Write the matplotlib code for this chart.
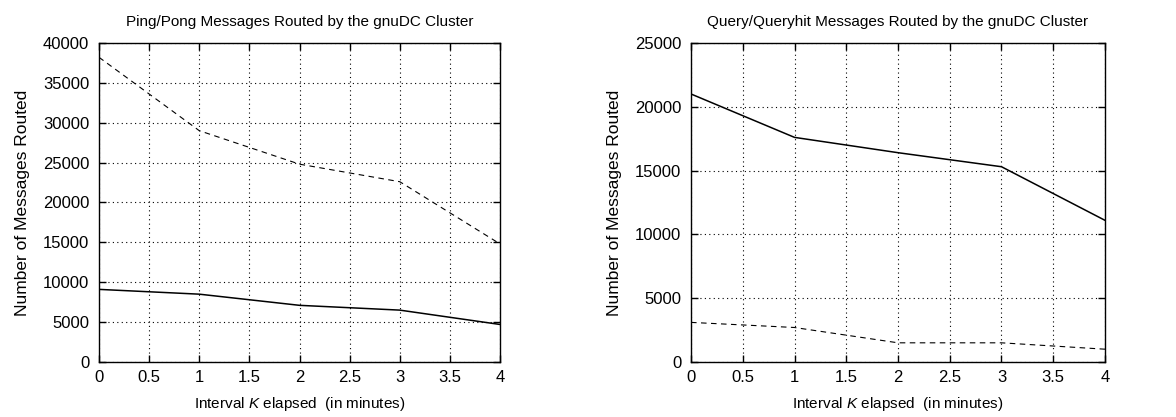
import matplotlib
matplotlib.use('Agg')
import matplotlib.pyplot as plt

plt.rcParams['font.family'] = ['Liberation Sans', 'DejaVu Sans']
plt.rcParams['mathtext.fontset'] = 'custom'
plt.rcParams['mathtext.it'] = 'Liberation Sans:italic'

# interval K elapsed (minutes)
minutes = [0, 1, 2, 3, 4]

# ping/pong messages
ping_dashed = [38200, 29000, 24800, 22600, 14800]
ping_solid = [9100, 8500, 7100, 6500, 4700]

# query/queryhit messages
query_solid = [21000, 17600, 16400, 15300, 11100]
query_dashed = [3100, 2700, 1500, 1500, 1000]

x_ticks = [0, 0.5, 1, 1.5, 2, 2.5, 3, 3.5, 4]
x_ticklabels = ['0', '0.5', '1', '1.5', '2', '2.5', '3', '3.5', '4']


def style_axes(ax, title, ymax, ystep):
    '''
    Gnuplot-like look: inward ticks on all sides, dotted grid.
    '''
    ax.set_xlim(0, 4)
    ax.set_ylim(0, ymax)
    ax.set_xticks(x_ticks)
    ax.set_xticklabels(x_ticklabels)
    ax.set_yticks(range(0, ymax + 1, ystep))
    ax.tick_params(direction='in', top=True, right=True, length=5,
                   width=1, labelsize=12, colors='black')
    ax.tick_params(axis='y', pad=7)
    ax.tick_params(axis='x', pad=6)
    ax.grid(True, linestyle=(0, (1, 3)), color='black', linewidth=0.8)
    for s in ax.spines.values():
        s.set_linewidth(1)
    ax.set_title(title, fontsize=11, pad=12)
    ax.set_xlabel('Interval $K$ elapsed  (in minutes)', fontsize=11, labelpad=7)
    ax.set_ylabel('Number of Messages Routed', fontsize=12.5, labelpad=9)


fig = plt.figure(figsize=(11.76, 4.17), dpi=100)
ax1 = fig.add_axes([0.0842, 0.132, 0.3410, 0.765])
ax2 = fig.add_axes([0.5876, 0.132, 0.3520, 0.765])

ax1.plot(minutes, ping_dashed, color='black', linestyle=(0, (5, 4)), linewidth=0.8)
ax1.plot(minutes, ping_solid, color='black', linewidth=1.1)
style_axes(ax1, 'Ping/Pong Messages Routed by the gnuDC Cluster', 40000, 5000)

ax2.plot(minutes, query_solid, color='black', linewidth=1.1)
ax2.plot(minutes, query_dashed, color='black', linestyle=(0, (5, 4)), linewidth=0.8)
style_axes(ax2, 'Query/Queryhit Messages Routed by the gnuDC Cluster', 25000, 5000)

plt.savefig('out.png', dpi=100)
